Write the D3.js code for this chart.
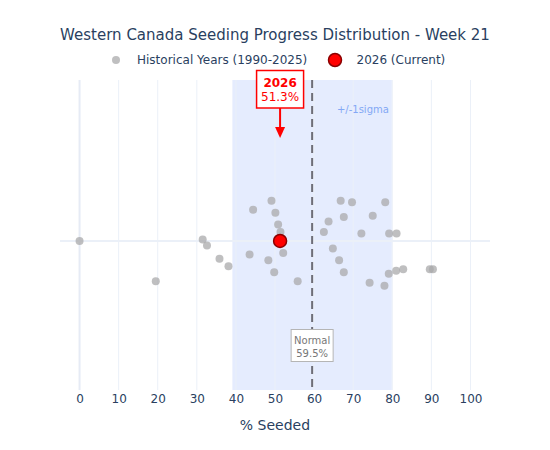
<!DOCTYPE html>
<html>
<head>
<meta charset="utf-8">
<script src="https://cdn.jsdelivr.net/npm/d3@7"></script>
<style>
  body { margin: 0; background: #fff; }
  svg { font-family: Verdana, "DejaVu Sans", sans-serif; }
</style>
</head>
<body>
<div id="chart"></div>
<script>
// Historical seeding progress (% seeded at week 21), 1990-2025, with jitter on y
const histPct = [0.0, 19.5, 31.5, 32.6, 35.8, 38.1, 43.5, 44.4, 48.3, 49.1, 49.8, 50.1,
  50.8, 51.4, 52.1, 55.8, 62.5, 63.7, 64.8, 66.4, 66.8, 67.6, 67.6, 69.7,
  72.1, 74.2, 75.0, 78.0, 78.2, 79.1, 79.2, 81.0, 81.1, 82.8, 89.6, 90.4];
const histJitter = [0.0, -0.27, 0.01, -0.03, -0.12, -0.17, -0.09, 0.21, -0.13, 0.27, -0.21, 0.19,
  0.11, 0.06, -0.08, -0.27, 0.06, 0.13, -0.05, -0.13, 0.27, 0.16, -0.21, 0.26,
  0.05, -0.28, 0.17, -0.30, 0.26, -0.22, 0.05, -0.20, 0.05, -0.19, -0.19, -0.19];
const currentYear = 2026;
const currentPct = 51.3;
const normalPct = 59.5;
const sigma = 20.4;
const week = 21;
const xTicks = [0, 10, 20, 30, 40, 50, 60, 70, 80, 90, 100];

const width = 550, height = 450;
const margin = { top: 80, right: 60, bottom: 60, left: 60 };
const textColor = "#2a3f5f";
const gridColor = "#ebf0f8";

const svg = d3.select("#chart").append("svg")
  .attr("width", width)
  .attr("height", height);

const x = d3.scaleLinear()
  .domain([-5, 105])
  .range([margin.left, width - margin.right]);

const y = d3.scaleLinear()
  .domain([-1, 1.08])
  .range([height - margin.bottom, margin.top]);

const plotBottom = y.range()[0];

// +/- 1 sigma band (below grid)
svg.append("rect")
  .attr("x", x(normalPct - sigma))
  .attr("y", margin.top)
  .attr("width", x(normalPct + sigma) - x(normalPct - sigma))
  .attr("height", plotBottom - margin.top)
  .attr("fill", "#e5ecfe");

// Vertical grid lines
svg.append("g")
  .selectAll("line")
  .data(xTicks)
  .join("line")
  .attr("x1", (d) => x(d))
  .attr("x2", (d) => x(d))
  .attr("y1", margin.top)
  .attr("y2", plotBottom)
  .attr("stroke", (d) => (d === 0 ? "#e6ebf5" : gridColor))
  .attr("stroke-width", (d) => (d === 0 ? 2 : 1));

// Horizontal zero line
svg.append("line")
  .attr("x1", margin.left)
  .attr("x2", width - margin.right)
  .attr("y1", y(0))
  .attr("y2", y(0))
  .attr("stroke", gridColor)
  .attr("stroke-width", 2);

svg.append("text")
  .attr("x", x(normalPct + sigma) - 3)
  .attr("y", 113)
  .attr("text-anchor", "end")
  .attr("font-size", 10)
  .attr("fill", "#83a8f5")
  .text("+/-1sigma");

// Normal line
svg.append("line")
  .attr("x1", x(normalPct))
  .attr("x2", x(normalPct))
  .attr("y1", margin.top)
  .attr("y2", plotBottom)
  .attr("stroke", "#6e6e78")
  .attr("stroke-width", 2)
  .attr("stroke-dasharray", "8,5");

// Historical points
svg.append("g")
  .selectAll("circle")
  .data(histPct.map((p, i) => ({ p, j: histJitter[i] })))
  .join("circle")
  .attr("cx", (d) => x(d.p))
  .attr("cy", (d) => y(d.j))
  .attr("r", 4)
  .attr("fill", "#a9a9ab")
  .attr("opacity", 0.75);

// Current year point
svg.append("circle")
  .attr("cx", x(currentPct))
  .attr("cy", y(0))
  .attr("r", 6.5)
  .attr("fill", "#ff0000")
  .attr("stroke", "#8b0000")
  .attr("stroke-width", 1.5);

// X axis
const xAxis = d3.axisBottom(x).tickValues(xTicks).tickSize(0).tickPadding(4.5);
const axisG = svg.append("g")
  .attr("transform", `translate(0,${plotBottom})`)
  .call(xAxis);
axisG.select(".domain").remove();
axisG.selectAll("text")
  .attr("font-family", "Verdana, DejaVu Sans, sans-serif")
  .attr("font-size", 12)
  .attr("fill", textColor);

svg.append("text")
  .attr("x", x(50))
  .attr("y", 430)
  .attr("text-anchor", "middle")
  .attr("font-size", 14)
  .attr("fill", textColor)
  .text("% Seeded");

// Normal annotation
const nx = x(normalPct);
svg.append("rect")
  .attr("x", nx - 21)
  .attr("y", 329.5)
  .attr("width", 42)
  .attr("height", 32)
  .attr("fill", "#fff")
  .attr("stroke", "#b5b5b5")
  .attr("stroke-width", 1);
svg.append("text")
  .attr("x", nx).attr("y", 343.5)
  .attr("text-anchor", "middle")
  .attr("font-size", 10)
  .attr("fill", "#777")
  .text("Normal");
svg.append("text")
  .attr("x", nx).attr("y", 356.5)
  .attr("text-anchor", "middle")
  .attr("font-size", 10)
  .attr("fill", "#777")
  .text(`${normalPct}%`);

// Current year annotation with arrow
const cx = x(currentPct);
svg.append("line")
  .attr("x1", cx).attr("x2", cx)
  .attr("y1", 108).attr("y2", 128)
  .attr("stroke", "#ff0000")
  .attr("stroke-width", 2);
svg.append("path")
  .attr("d", `M${cx - 5},127 L${cx + 5},127 L${cx},138 Z`)
  .attr("fill", "#ff0000");
svg.append("rect")
  .attr("x", cx - 23.5)
  .attr("y", 70.5)
  .attr("width", 47)
  .attr("height", 37.5)
  .attr("fill", "#fff")
  .attr("stroke", "#ff0000")
  .attr("stroke-width", 1.5);
svg.append("text")
  .attr("x", cx).attr("y", 86.5)
  .attr("text-anchor", "middle")
  .attr("font-size", 12)
  .attr("font-weight", "bold")
  .attr("fill", "#ff0000")
  .text(currentYear);
svg.append("text")
  .attr("x", cx).attr("y", 101)
  .attr("text-anchor", "middle")
  .attr("font-size", 12)
  .attr("fill", "#ff0000")
  .text(`${currentPct}%`);

// Title
svg.append("text")
  .attr("x", width / 2)
  .attr("y", 40)
  .attr("text-anchor", "middle")
  .attr("font-size", 15)
  .attr("fill", textColor)
  .text(`Western Canada Seeding Progress Distribution - Week ${week}`);

// Legend
const legend = svg.append("g").attr("transform", "translate(0,60)");
legend.append("circle")
  .attr("cx", 116).attr("cy", 0).attr("r", 4)
  .attr("fill", "#a9a9ab").attr("opacity", 0.75);
legend.append("text")
  .attr("x", 137).attr("y", 3.5)
  .attr("font-size", 12)
  .attr("fill", textColor)
  .text("Historical Years (1990-2025)");
legend.append("circle")
  .attr("cx", 335).attr("cy", 0).attr("r", 6.5)
  .attr("fill", "#ff0000")
  .attr("stroke", "#8b0000")
  .attr("stroke-width", 1.5);
legend.append("text")
  .attr("x", 356.5).attr("y", 3.5)
  .attr("font-size", 12)
  .attr("fill", textColor)
  .text(`${currentYear} (Current)`);
</script>
</body>
</html>
